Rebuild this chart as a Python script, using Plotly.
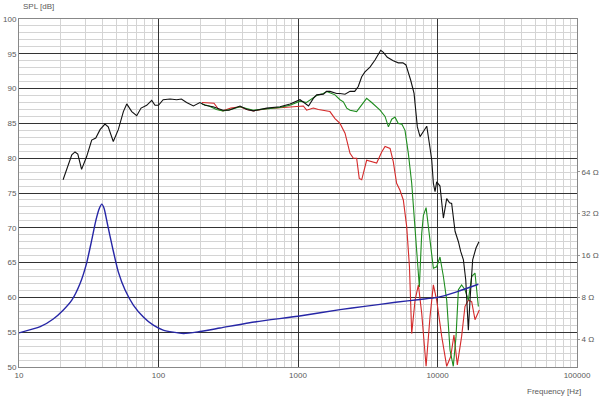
import plotly.graph_objects as go
import numpy as np

# ---- data ----
black_f = [20.7, 23.9, 25.2, 26.4, 28.1, 30.5, 33.2, 35.5, 38.1, 41.3, 43.6, 47.4, 51.5, 56, 59.2, 64.3,
           69.8, 75, 82.3, 89.4, 94.4, 100, 108, 121, 135, 146, 159, 178, 198, 215, 246, 290, 320, 384,
           430, 479, 597, 743, 877, 1033, 1122, 1190, 1288, 1361, 1520, 1607, 1694, 1893, 2000, 2173,
           2360, 2550, 2704, 2862, 3020, 3281, 3565, 3916, 4092, 4368, 4819, 5235, 5650, 5943, 6425,
           6792, 7170, 7498, 7900, 8375, 8836, 9095, 9340, 9600, 9866, 10420, 11020, 11640, 12200,
           12630, 13360, 14120, 14660, 15340, 15940, 16640, 17100, 17870, 18880, 19820]
black_db = [76.9, 80.5, 80.9, 80.6, 78.4, 80.2, 82.6, 82.9, 84.1, 84.9, 84.5, 82.4, 84.1, 86.7, 87.8, 86.7,
            86.1, 87.2, 87.6, 88.3, 87.6, 87.6, 88.4, 88.5, 88.4, 88.5, 88.0, 87.5, 88.0, 87.6, 87.4, 86.9,
            86.9, 87.5, 87.0, 86.8, 87.2, 87.4, 87.8, 88.4, 87.9, 87.5, 88.6, 89.1, 89.2, 89.6, 89.6, 89.3,
            89.3, 89.2, 89.6, 89.6, 90.3, 91.7, 92.4, 93.1, 94.1, 95.5, 95.2, 94.5, 94.0, 93.7, 93.7, 93.4,
            91.2, 89.3, 84.5, 83.1, 83.8, 84.6, 81.5, 79.7, 76.4, 75.2, 76.6, 76.0, 71.4, 74.2, 73.6, 73.5,
            69.5, 68.0, 66.6, 65.4, 62.5, 55.3, 59.6, 65.4, 67.1, 68.0]

green_f = [205, 230, 260, 290, 330, 384, 479, 597, 743, 877, 1033, 1150, 1288, 1361, 1520, 1607, 1694,
           1841, 2000, 2113, 2235, 2360, 2632, 2862, 3105, 3373, 3873, 4207, 4448, 4699, 4958, 5235,
           5548, 5848, 6180, 6532, 6906, 7103, 7413, 7707, 7925, 8283, 8836, 9340, 9866, 10420, 11020,
           11640, 12300, 12980, 13580, 14120, 14890, 15740, 16640, 17580, 18570, 19630]
green_db = [87.8, 87.5, 87.0, 86.8, 87.0, 87.4, 86.9, 87.1, 87.3, 87.6, 88.2, 88.0, 88.6, 89.0, 89.3, 89.6,
            89.4, 89.1, 88.4, 88.1, 87.2, 86.9, 86.7, 87.6, 88.6, 88.0, 86.9, 86.0, 84.5, 85.6, 85.9, 85.0,
            84.9, 84.0, 80.7, 76.4, 69.9, 66.8, 61.5, 69.2, 71.8, 72.9, 68.2, 64.2, 64.4, 65.8, 63.0, 59.6,
            52.4, 50.1, 54.4, 61.1, 61.8, 61.1, 59.6, 63.0, 63.5, 58.7]

red_f = [205, 230, 250, 270, 290, 330, 384, 430, 479, 597, 703, 800, 900, 1000, 1092, 1153, 1288, 1400,
         1520, 1694, 1841, 2000, 2173, 2360, 2495, 2632, 2748, 2862, 3105, 3373, 3664, 3981, 4207, 4571,
         4819, 5093, 5383, 5688, 6012, 6295, 6532, 6906, 7295, 7707, 8283, 8836, 9340, 9866, 10720,
         11640, 12440, 13120, 13870, 14890, 15740, 16640, 17580, 18570, 19950]
red_db = [88.0, 88.0, 87.9, 87.0, 86.8, 87.2, 87.4, 87.0, 86.8, 87.1, 87.2, 87.3, 87.4, 87.4, 87.5, 86.9,
          87.2, 87.0, 86.9, 86.7, 85.7, 85.0, 83.6, 80.7, 80.0, 80.0, 77.1, 76.9, 79.7, 79.5, 79.3, 80.9,
          81.7, 81.4, 79.5, 76.4, 75.4, 74.0, 70.2, 64.4, 54.8, 59.6, 61.8, 57.7, 50.1, 57.2, 61.8, 59.6,
          54.4, 50.1, 51.5, 54.6, 50.3, 54.4, 58.7, 59.6, 59.4, 56.8, 58.2]

imp_f = [10, 14.2, 17.6, 20.8, 23.9, 27.4, 30.5, 33.2, 35.6, 37.7, 39.2, 40.7, 43, 46.9, 51.5, 57.5, 66,
         77.9, 91.8, 108, 151, 198, 276, 500, 1000, 2000, 3000, 5000, 7500, 10000, 13740, 19630]
imp_ohm = [4.45, 4.93, 5.6, 6.5, 7.64, 10.07, 14.06, 20.6, 28.7, 34.9, 37.4, 34.9, 27.1, 18.1, 12.2, 9.07,
           7.05, 5.79, 5.05, 4.66, 4.4, 4.55, 4.82, 5.35, 5.86, 6.53, 6.89, 7.38, 7.73, 8.0, 8.77, 9.94]

x_ticks = [10, 100, 1000, 10000, 100000]
x_ticktext = ["10", "100", "1000", "10000", "100000"]
spl_ticks = [50, 55, 60, 65, 70, 75, 80, 85, 90, 95, 100]
imp_ticks = [4, 8, 16, 32, 64]
imp_ticktext = ["4 Ω", "8 Ω", "16 Ω", "32 Ω", "64 Ω"]

FONT = "Liberation Sans, Arial, sans-serif"
TXT = "#5a5a5a"
FS = 8

fig = go.Figure()
fig.add_trace(go.Scatter(x=imp_f, y=imp_ohm, yaxis="y2", mode="lines",
                         line=dict(color="#2626a6", width=1.4, shape="spline", smoothing=0.6)))
fig.add_trace(go.Scatter(x=red_f, y=red_db, mode="lines", line=dict(color="#d42a2a", width=1.1)))
fig.add_trace(go.Scatter(x=green_f, y=green_db, mode="lines", line=dict(color="#1e8c1e", width=1.1)))
fig.add_trace(go.Scatter(x=black_f, y=black_db, mode="lines", line=dict(color="#111111", width=1.1)))

fig.update_layout(
    width=600, height=398,
    margin=dict(l=19, r=23, t=19, b=31, autoexpand=False),
    paper_bgcolor="white", plot_bgcolor="white",
    showlegend=False,
    font=dict(family=FONT, size=FS, color=TXT),
    xaxis=dict(type="log", range=[1, 5], tickmode="array", tickvals=x_ticks, ticktext=x_ticktext,
               automargin=False,
               showgrid=True, gridcolor="#333333", gridwidth=1,
               minor=dict(dtick="D1", showgrid=True, gridcolor="#d4d4d4", gridwidth=1, ticks=""),
               showline=True, linecolor="#888888", mirror=True, ticks="", zeroline=False,
               tickfont=dict(family=FONT, size=FS, color=TXT)),
    yaxis=dict(range=[50, 100], tickmode="array", tickvals=spl_ticks, automargin=False,
               showgrid=True, gridcolor="#333333", gridwidth=1,
               minor=dict(dtick=1, showgrid=True, gridcolor="#d4d4d4", gridwidth=1, ticks=""),
               showline=True, linecolor="#888888", mirror=True, ticks="", zeroline=False,
               ticklabelstandoff=0,
               tickfont=dict(family=FONT, size=FS, color=TXT)),
    yaxis2=dict(type="log", overlaying="y", side="right", automargin=False,
                range=[np.log10(8 * 10 ** (-0.5)), np.log10(8 * 10 ** 2.0)],
                tickmode="array", tickvals=imp_ticks, ticktext=imp_ticktext,
                showgrid=False, zeroline=False, showline=False,
                ticks="outside", ticklen=2, tickcolor="#999999",
                ticklabelstandoff=0,
                tickfont=dict(family=FONT, size=FS, color=TXT)),
    annotations=[
        dict(text="SPL [dB]", xref="paper", yref="paper", x=0.004, y=1.035,
             xanchor="left", yanchor="middle", showarrow=False,
             font=dict(family=FONT, size=FS, color=TXT)),
        dict(text="Frequency [Hz]", xref="paper", yref="paper", x=1.01, y=-0.07,
             xanchor="right", yanchor="middle", showarrow=False,
             font=dict(family=FONT, size=FS, color=TXT)),
    ],
)

fig.write_html("out.html")
